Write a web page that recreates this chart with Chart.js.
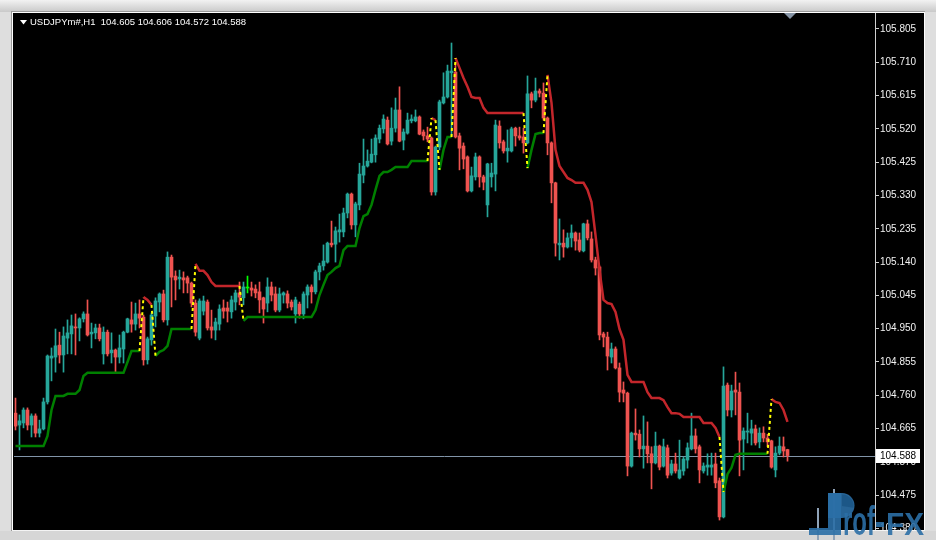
<!DOCTYPE html>
<html>
<head>
<meta charset="utf-8">
<script src="https://cdn.jsdelivr.net/npm/chart.js@4.4.1/dist/chart.umd.min.js"></script>
<style>
  html, body { margin: 0; padding: 0; background: #ececec; }
  #wrap { width: 936px; height: 540px; }
</style>
</head>
<body>
<div id="wrap"><canvas id="chart" width="936" height="540"></canvas></div>
<script>
// USDJPYm#, H1 - candles with a trailing stop (support / resistance) line
var symbolName = 'USDJPYm#';
var timeframe = 'H1';

var opens = [
  104.709, 104.675, 104.681, 104.718, 104.675, 104.701, 104.652, 104.664, 104.741, 104.866, // 0
  104.869, 104.903, 104.875, 104.923, 104.935, 104.955, 104.952, 104.978, 104.992, 104.935, // 10
  104.938, 104.952, 104.878, 104.940, 104.881, 104.889, 104.869, 104.892, 104.940, 104.975, // 20
  104.963, 104.992, 104.983, 104.861, 104.918, 104.986, 105.026, 105.049, 104.975, 105.154, // 30
  105.100, 105.092, 105.095, 105.095, 105.080, 105.023, 104.923, 105.000, 105.026, 104.955, // 40
  104.946, 104.963, 105.009, 105.009, 104.998, 105.026, 105.052, 105.038, 105.066, 105.066, // 50
  105.063, 105.055, 105.038, 105.023, 105.069, 105.049, 105.003, 105.046, 105.049, 105.026, // 60
  104.992, 105.020, 104.992, 105.046, 105.069, 105.055, 105.112, 105.129, 105.140, 105.194, // 70
  105.191, 105.226, 105.226, 105.280, 105.334, 105.246, 105.303, 105.388, 105.414, 105.425, // 80
  105.446, 105.491, 105.520, 105.545, 105.485, 105.522, 105.574, 105.488, 105.508, 105.543, // 90
  105.543, 105.554, 105.511, 105.500, 105.494, 105.340, 105.468, 105.594, 105.611, 105.680, // 100
  105.682, 105.500, 105.471, 105.440, 105.343, 105.383, 105.440, 105.383, 105.303, 105.383, // 110
  105.391, 105.528, 105.483, 105.457, 105.457, 105.522, 105.500, 105.497, 105.480, 105.620, // 120
  105.602, 105.628, 105.622, 105.551, 105.480, 105.366, 105.189, 105.194, 105.183, 105.209, // 130
  105.223, 105.203, 105.172, 105.249, 105.206, 105.146, 105.126, 104.935, 104.926, 104.869, // 140
  104.892, 104.838, 104.775, 104.766, 104.558, 104.652, 104.649, 104.607, 104.615, 104.593, // 150
  104.567, 104.615, 104.558, 104.610, 104.538, 104.564, 104.524, 104.544, 104.575, 104.607, // 160
  104.644, 104.613, 104.544, 104.555, 104.555, 104.564, 104.516, 104.413, 104.789, 104.718, // 170
  104.775, 104.769, 104.635, 104.655, 104.652, 104.664, 104.627, 104.652, 104.638, 104.630, // 180
  104.547, 104.595, 104.613, 104.605                                                      // 190
];
var highs = [
  104.752, 104.704, 104.724, 104.724, 104.707, 104.707, 104.689, 104.752, 104.875, 104.895,
  104.949, 104.940, 104.955, 104.975, 104.989, 104.992, 104.981, 104.998, 105.032, 104.966,
  104.963, 104.963, 104.955, 104.946, 104.938, 104.892, 104.932, 104.943, 104.980, 105.026,
  105.023, 105.032, 104.989, 104.926, 104.995, 105.038, 105.052, 105.060, 105.169, 105.160,
  105.115, 105.117, 105.112, 105.100, 105.083, 105.032, 105.035, 105.043, 105.032, 105.003,
  104.980, 105.018, 105.032, 105.026, 105.043, 105.060, 105.083, 105.083, 105.100, 105.083,
  105.075, 105.083, 105.040, 105.095, 105.083, 105.069, 105.066, 105.055, 105.058, 105.032,
  105.040, 105.026, 105.055, 105.075, 105.075, 105.117, 105.137, 105.189, 105.197, 105.257,
  105.240, 105.277, 105.294, 105.337, 105.337, 105.311, 105.422, 105.491, 105.460, 105.491,
  105.503, 105.531, 105.560, 105.554, 105.580, 105.608, 105.640, 105.520, 105.565, 105.560,
  105.574, 105.557, 105.517, 105.525, 105.497, 105.471, 105.602, 105.680, 105.702, 105.765,
  105.708, 105.508, 105.480, 105.443, 105.411, 105.451, 105.443, 105.388, 105.422, 105.422,
  105.545, 105.543, 105.488, 105.517, 105.525, 105.525, 105.525, 105.522, 105.671, 105.625,
  105.665, 105.634, 105.651, 105.554, 105.483, 105.368, 105.263, 105.232, 105.223, 105.246,
  105.226, 105.223, 105.251, 105.260, 105.226, 105.154, 105.129, 104.940, 104.940, 104.909,
  104.898, 104.852, 104.798, 104.769, 104.655, 104.721, 104.661, 104.701, 104.684, 104.613,
  104.655, 104.618, 104.635, 104.618, 104.575, 104.595, 104.632, 104.584, 104.624, 104.709,
  104.664, 104.618, 104.567, 104.593, 104.595, 104.595, 104.524, 104.841, 104.795, 104.789,
  104.826, 104.795, 104.667, 104.709, 104.689, 104.675, 104.667, 104.670, 104.649, 104.632,
  104.613, 104.641, 104.641, 104.606
];
var lows = [
  104.661, 104.604, 104.667, 104.661, 104.641, 104.641, 104.641, 104.661, 104.735, 104.801,
  104.826, 104.852, 104.826, 104.878, 104.878, 104.875, 104.915, 104.969, 104.929, 104.895,
  104.921, 104.915, 104.849, 104.872, 104.852, 104.826, 104.852, 104.852, 104.938, 104.940,
  104.946, 104.952, 104.846, 104.849, 104.903, 104.955, 104.998, 104.969, 104.960, 105.012,
  105.032, 105.063, 105.052, 105.052, 105.012, 104.929, 104.918, 104.989, 104.946, 104.923,
  104.918, 104.946, 104.980, 104.969, 104.980, 105.003, 105.018, 105.018, 105.052, 105.043,
  105.038, 104.995, 104.966, 104.998, 105.029, 104.998, 104.998, 105.023, 105.009, 105.003,
  104.966, 104.980, 104.978, 105.009, 105.023, 105.049, 105.089, 105.117, 105.137, 105.183,
  105.140, 105.197, 105.212, 105.266, 105.234, 105.212, 105.289, 105.366, 105.411, 105.423,
  105.425, 105.480, 105.508, 105.474, 105.474, 105.511, 105.483, 105.460, 105.505, 105.537,
  105.540, 105.503, 105.488, 105.483, 105.331, 105.331, 105.460, 105.591, 105.608, 105.497,
  105.494, 105.403, 105.406, 105.340, 105.340, 105.374, 105.354, 105.346, 105.269, 105.354,
  105.343, 105.465, 105.451, 105.425, 105.454, 105.471, 105.488, 105.451, 105.477, 105.580,
  105.597, 105.611, 105.545, 105.446, 105.309, 105.157, 105.146, 105.154, 105.180, 105.183,
  105.174, 105.169, 105.169, 105.203, 105.140, 105.103, 104.918, 104.898, 104.832, 104.852,
  104.835, 104.741, 104.741, 104.530, 104.555, 104.632, 104.584, 104.552, 104.567, 104.493,
  104.564, 104.547, 104.555, 104.524, 104.532, 104.538, 104.521, 104.532, 104.552, 104.604,
  104.595, 104.510, 104.538, 104.532, 104.532, 104.496, 104.404, 104.410, 104.701, 104.698,
  104.704, 104.530, 104.547, 104.624, 104.618, 104.618, 104.610, 104.627, 104.613, 104.552,
  104.527, 104.590, 104.584, 104.572
];
var closes = [
  104.672, 104.687, 104.718, 104.675, 104.701, 104.652, 104.664, 104.741, 104.872, 104.872,
  104.901, 104.875, 104.929, 104.938, 104.958, 104.952, 104.978, 104.992, 104.932, 104.940,
  104.952, 104.921, 104.940, 104.878, 104.889, 104.869, 104.895, 104.940, 104.978, 104.963,
  104.992, 104.980, 104.861, 104.921, 104.989, 105.029, 105.049, 104.975, 105.154, 105.097,
  105.089, 105.097, 105.089, 105.080, 105.023, 104.940, 105.029, 105.029, 104.952, 104.946,
  104.969, 105.006, 105.000, 105.000, 105.032, 105.052, 105.040, 105.069, 105.066, 105.060,
  105.052, 105.032, 105.006, 105.069, 105.046, 105.003, 105.049, 105.052, 105.023, 105.012,
  105.032, 104.992, 105.049, 105.069, 105.055, 105.112, 105.129, 105.143, 105.194, 105.189,
  105.229, 105.232, 105.280, 105.334, 105.246, 105.306, 105.391, 105.414, 105.428, 105.448,
  105.494, 105.522, 105.548, 105.477, 105.522, 105.574, 105.485, 105.511, 105.545, 105.548,
  105.554, 105.505, 105.500, 105.491, 105.340, 105.468, 105.597, 105.611, 105.685, 105.685,
  105.497, 105.465, 105.434, 105.343, 105.386, 105.440, 105.383, 105.368, 105.420, 105.394,
  105.531, 105.480, 105.457, 105.465, 105.520, 105.500, 105.494, 105.480, 105.620, 105.602,
  105.628, 105.622, 105.551, 105.480, 105.366, 105.194, 105.194, 105.183, 105.209, 105.223,
  105.200, 105.174, 105.249, 105.209, 105.146, 105.123, 104.932, 104.926, 104.872, 104.892,
  104.838, 104.769, 104.766, 104.558, 104.652, 104.647, 104.607, 104.615, 104.593, 104.567,
  104.615, 104.555, 104.613, 104.532, 104.564, 104.544, 104.547, 104.578, 104.610, 104.644,
  104.607, 104.547, 104.558, 104.561, 104.561, 104.510, 104.413, 104.786, 104.718, 104.772,
  104.769, 104.632, 104.658, 104.658, 104.664, 104.624, 104.652, 104.638, 104.627, 104.555,
  104.595, 104.615, 104.601, 104.588
];

// trailing stop: green under price (uptrend), red above price (downtrend)
var supportSegments = [
  { from: 0, values: [104.615, 104.615, 104.615, 104.615, 104.615, 104.615, 104.615, 104.615, 104.644, 104.718,
                      104.758, 104.758, 104.758, 104.764, 104.764, 104.764, 104.775, 104.815, 104.824, 104.824,
                      104.824, 104.824, 104.824, 104.824, 104.824, 104.824, 104.824, 104.824, 104.855, 104.886,
                      104.886, 104.886] },
  { from: 35, values: [104.872, 104.884, 104.889, 104.901, 104.949, 104.949, 104.949, 104.949, 104.949, 104.949] },
  { from: 57, values: [104.972, 104.983, 104.983, 104.983, 104.983, 104.983, 104.983, 104.983, 104.983, 104.983,
                       104.983, 104.983, 104.983, 104.983, 104.983, 104.983, 104.983, 104.983, 105.003, 105.046,
                       105.075, 105.103, 105.112, 105.123, 105.129, 105.174, 105.186, 105.186, 105.186, 105.237,
                       105.271, 105.277, 105.303, 105.346, 105.386, 105.397, 105.397, 105.403, 105.411, 105.411,
                       105.411, 105.411, 105.428, 105.428, 105.428, 105.428, 105.428] },
  { from: 106, values: [105.403, 105.460, 105.497, 105.497] },
  { from: 128, values: [105.408, 105.460, 105.505, 105.508, 105.508] },
  { from: 177, values: [104.484, 104.535, 104.553, 104.590, 104.593, 104.593, 104.593, 104.593, 104.593, 104.593,
                        104.593, 104.593] }
];
var resistanceSegments = [
  { from: 32, values: [105.040, 105.032, 105.018] },
  { from: 45, values: [105.135, 105.115, 105.115, 105.103, 105.083, 105.072, 105.072, 105.072, 105.072, 105.072,
                       105.072, 105.072] },
  { from: 104, values: [105.551, 105.545] },
  { from: 110, values: [105.722, 105.694, 105.665, 105.640, 105.611, 105.608, 105.608, 105.580, 105.565, 105.565,
                        105.565, 105.565, 105.565, 105.565, 105.565, 105.565, 105.565, 105.565] },
  { from: 133, values: [105.674, 105.594, 105.460, 105.414, 105.397, 105.380, 105.374, 105.366, 105.366, 105.366,
                        105.346, 105.311, 105.217, 105.117, 105.032, 105.023, 105.020, 104.998, 104.949, 104.918,
                        104.818, 104.798, 104.798, 104.798, 104.798, 104.769, 104.752, 104.752, 104.752, 104.746,
                        104.726, 104.709, 104.709, 104.707, 104.698, 104.698, 104.698, 104.698, 104.698, 104.681,
                        104.681, 104.681, 104.667, 104.641] },
  { from: 189, values: [104.749, 104.741, 104.738, 104.718, 104.684] }
];

var priceTicks = [105.805, 105.710, 105.615, 105.520, 105.425, 105.330, 105.235, 105.140,
                  105.045, 104.950, 104.855, 104.760, 104.665, 104.570, 104.475, 104.380];

var TEAL = '#26a69a';
var RED = '#ef5350';
var DOJI = '#00ff00';

var n = closes.length;
var last = n - 1;

function segmentsToSeries(segs) {
  var out = [];
  for (var i = 0; i < n; i++) out.push(null);
  segs.forEach(function(s) {
    s.values.forEach(function(v, k) { out[s.from + k] = v; });
  });
  return out;
}
var support = segmentsToSeries(supportSegments);
var resistance = segmentsToSeries(resistanceSegments);

var colors = closes.map(function(c, i) {
  if (c > opens[i]) return TEAL;
  if (c < opens[i]) return RED;
  return DOJI;
});
var wickData = closes.map(function(c, i) { return { x: i, y: [lows[i], highs[i]] }; });
var bodyData = closes.map(function(c, i) { return { x: i, y: [opens[i], c] }; });
var supportData = support.map(function(v, i) { return { x: i, y: v }; });
var resistanceData = resistance.map(function(v, i) { return { x: i, y: v }; });

// yellow dashed joins where the stop flips side
var flipData = [];
for (var i = 0; i < n - 1; i++) {
  var a = null, b = null;
  if (support[i] !== null && resistance[i + 1] !== null) { a = support[i]; b = resistance[i + 1]; }
  if (resistance[i] !== null && support[i + 1] !== null) { a = resistance[i]; b = support[i + 1]; }
  if (a !== null) {
    flipData.push({ x: i, y: a }, { x: i + 1, y: b }, { x: i + 1.5, y: null });
  }
}

function fitText(ctx, text, x, y, width) {
  var w = ctx.measureText(text).width;
  ctx.save();
  ctx.translate(x, y);
  ctx.scale(width / w, 1);
  ctx.fillText(text, 0, 0);
  ctx.restore();
}

var frame = {
  id: 'frame',
  beforeDraw: function(chart) {
    var ctx = chart.ctx;
    ctx.save();
    ctx.fillStyle = '#dedede';
    ctx.fillRect(0, 0, 936, 540);
    var g = ctx.createLinearGradient(0, 0, 0, 12);
    g.addColorStop(0, '#f2f2f2');
    g.addColorStop(1, '#c9c9c9');
    ctx.fillStyle = g;
    ctx.fillRect(0, 0, 936, 12);
    ctx.fillStyle = '#9a9a9a';
    ctx.fillRect(11, 11, 914, 1);
    ctx.fillRect(11, 11, 1, 521);
    ctx.fillStyle = '#ffffff';
    ctx.fillRect(12, 12, 913, 1);
    ctx.fillRect(12, 12, 1, 519);
    ctx.fillRect(924, 12, 1, 519);
    ctx.fillStyle = '#000000';
    ctx.fillRect(13, 13, 911, 517);
    ctx.restore();
  },
  beforeDatasetsDraw: function(chart) {
    var ctx = chart.ctx, area = chart.chartArea;
    var py = Math.round(chart.scales.y.getPixelForValue(closes[last])) + 0.5;
    ctx.save();
    ctx.strokeStyle = '#8194a8';
    ctx.lineWidth = 1;
    ctx.beginPath();
    ctx.moveTo(area.left, py);
    ctx.lineTo(area.right, py);
    ctx.stroke();
    ctx.restore();
  },
  afterDraw: function(chart) {
    var ctx = chart.ctx, area = chart.chartArea;
    ctx.save();
    // bottom edge of the window
    ctx.fillStyle = '#d6d6d6';
    ctx.fillRect(0, 531, 936, 9);
    ctx.fillStyle = '#f4f4f4';
    ctx.fillRect(12, 530, 913, 1);

    // current price box on the axis
    var py = Math.round(chart.scales.y.getPixelForValue(closes[last]));
    ctx.fillStyle = '#ffffff';
    ctx.fillRect(area.right + 1, py - 7, 44, 14);
    ctx.fillStyle = '#000000';
    ctx.font = '10px "Liberation Sans"';
    ctx.textBaseline = 'middle';
    ctx.textAlign = 'left';
    ctx.fillText(closes[last].toFixed(3), area.right + 5, py + 0.5);

    // header line
    ctx.fillStyle = '#ffffff';
    ctx.beginPath();
    ctx.moveTo(20, 20);
    ctx.lineTo(27, 20);
    ctx.lineTo(23.5, 24.5);
    ctx.closePath();
    ctx.fill();
    ctx.font = '9.5px "Liberation Sans"';
    var head = symbolName + ',' + timeframe + '  ' + opens[last].toFixed(3) + ' ' + highs[last].toFixed(3) +
      ' ' + lows[last].toFixed(3) + ' ' + closes[last].toFixed(3);
    ctx.fillText(head, 30, 22);

    // chart shift marker
    ctx.fillStyle = '#8795a6';
    ctx.beginPath();
    ctx.moveTo(784, 13);
    ctx.lineTo(796, 13);
    ctx.lineTo(790, 19);
    ctx.closePath();
    ctx.fill();

    // watermark logo
    ctx.fillStyle = '#8fa3b8';
    ctx.fillRect(833, 489, 2, 51);
    ctx.fillRect(817, 508, 2, 32);
    ctx.globalAlpha = 0.9;
    ctx.fillStyle = '#2b6fa6';
    ctx.fillRect(809, 528, 19, 7);
    ctx.fillRect(828, 493, 13, 42);
    ctx.beginPath();
    ctx.moveTo(828, 493);
    ctx.lineTo(842, 493);
    ctx.arc(842, 505.5, 12.5, -Math.PI / 2, Math.PI / 2);
    ctx.lineTo(828, 518);
    ctx.closePath();
    ctx.fill();
    ctx.fillStyle = '#1c5585';
    ctx.beginPath();
    ctx.moveTo(842, 506);
    ctx.arc(842, 506, 11.5, -Math.PI / 2, 0.15);
    ctx.closePath();
    ctx.fill();
    ctx.fillStyle = '#2b6fa6';
    ctx.textBaseline = 'alphabetic';
    ctx.font = 'bold 40px "Liberation Sans"';
    fitText(ctx, 'rof', 843, 535, 32);
    ctx.fillRect(876, 522, 8, 5);
    ctx.font = 'bold 32px "Liberation Sans"';
    fitText(ctx, 'FX', 886, 535, 38);
    ctx.restore();
  }
};

var ctx = document.getElementById('chart');
var chart = new Chart(ctx, {
  type: 'bar',
  data: {
    datasets: [
      { type: 'line', data: flipData, borderColor: '#ffff00', borderWidth: 2, borderDash: [3, 3],
        pointRadius: 0, spanGaps: false, tension: 0, order: 0 },
      { type: 'line', data: supportData, borderColor: '#008000', borderWidth: 2.5,
        pointRadius: 0, spanGaps: false, tension: 0, order: 1 },
      { type: 'line', data: resistanceData, borderColor: '#c3262b', borderWidth: 2.5,
        pointRadius: 0, spanGaps: false, tension: 0, order: 1 },
      { type: 'bar', data: bodyData, backgroundColor: colors, borderWidth: 0, barThickness: 3,
        minBarLength: 1, grouped: false, order: 2 },
      { type: 'bar', data: wickData, backgroundColor: colors, borderWidth: 0, barThickness: 1,
        grouped: false, order: 3 }
    ]
  },
  options: {
    responsive: false,
    animation: false,
    devicePixelRatio: 1,
    layout: { padding: { left: 14, top: 13, right: 0, bottom: 10 } },
    plugins: {
      legend: { display: false },
      tooltip: { enabled: false }
    },
    scales: {
      x: {
        type: 'linear',
        display: false,
        offset: false,
        min: -0.375,
        max: 214.875
      },
      y: {
        position: 'right',
        min: 104.3756,
        max: 105.8506,
        afterFit: function(scale) { scale.width = 61; },
        afterBuildTicks: function(scale) {
          scale.ticks = priceTicks.map(function(v) { return { value: v }; });
        },
        grid: { drawOnChartArea: false, drawTicks: true, tickLength: 4, color: '#cfcfcf' },
        border: { display: true, color: '#cfcfcf', width: 1 },
        ticks: {
          autoSkip: false,
          padding: 1,
          color: '#f2f2f2',
          font: { family: 'Liberation Sans', size: 10 },
          callback: function(v) { return Number(v).toFixed(3); }
        }
      }
    }
  },
  plugins: [frame]
});
</script>
</body>
</html>
